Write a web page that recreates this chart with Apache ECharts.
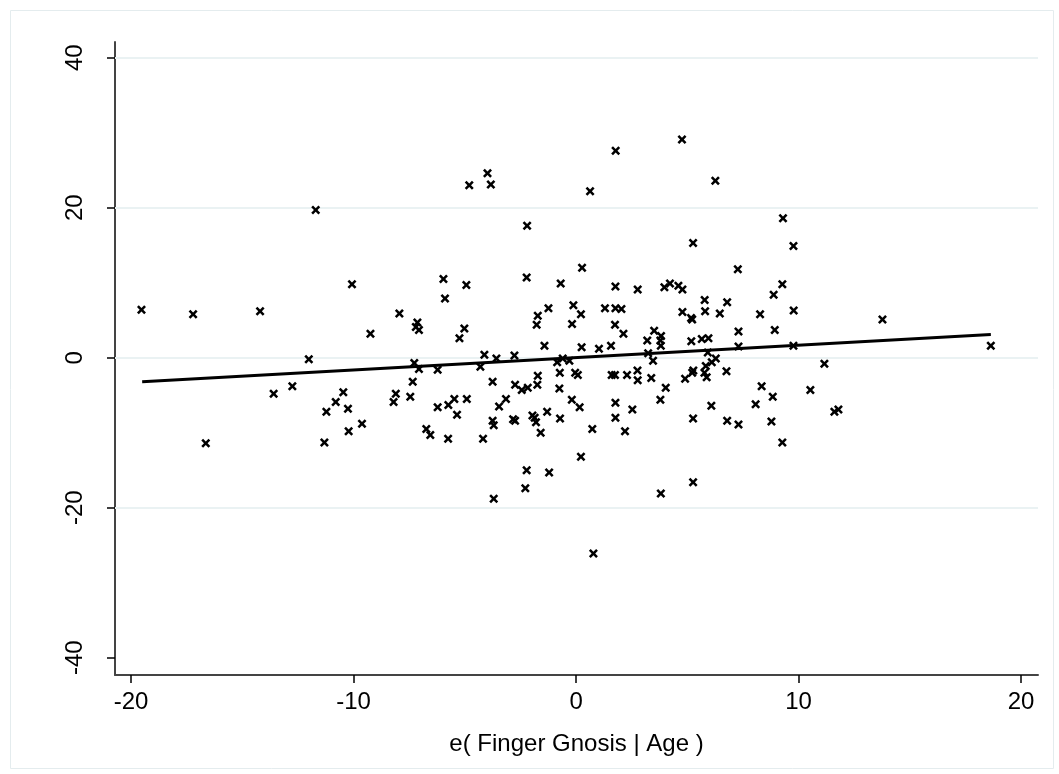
<!DOCTYPE html>
<html>
<head>
<meta charset="utf-8">
<script src="https://cdn.jsdelivr.net/npm/echarts@6/dist/echarts.min.js"></script>
<style>html,body{margin:0;padding:0;background:#fff;}#c{width:1059px;height:774px;}</style>
</head>
<body>
<div id="c"></div>
<script>
var xVals = [-19.53,-17.21,-14.2,-10.07,-12.01,-13.59,-12.75,-10.46,-10.8,-11.22,-10.25,-10.22,-11.31,-16.64,-11.7,-3.98,-4.8,-3.83,-2.2,0.63,1.78,4.76,6.26,9.3,5.26,9.77,-5.96,-4.93,-5.89,-7.94,-9.24,-7.13,-7.2,-7.06,-5.02,-5.24,-2.22,-0.69,0.27,-1.24,-1.72,-1.77,-0.12,0.22,-0.18,-1.42,0.25,-4.12,-3.58,-2.77,-7.27,-7.06,-6.22,-4.3,-0.85,-0.6,-0.3,-0.73,-0.04,0.08,-7.34,-3.75,-1.72,-1.74,-2.74,-2.44,-2.17,-0.75,-8.1,-8.2,-7.45,-9.62,-5.47,-5.74,-6.22,-4.91,-5.35,-3.15,-3.46,-0.19,0.16,-1.3,-1.96,-1.86,-1.8,-0.72,-2.83,-2.74,-3.75,-3.7,-6.73,-6.55,-5.75,-4.18,-1.59,0.22,-2.22,-1.21,-2.28,-3.7,7.27,1.77,2.77,3.97,4.22,4.6,4.78,9.27,8.88,6.79,5.78,5.8,4.78,5.17,5.22,6.46,8.27,9.78,8.93,1.3,1.77,2.04,1.75,2.13,3.51,3.82,3.79,3.81,3.2,5.18,5.65,5.95,7.3,7.3,9.77,1.03,1.57,3.24,3.46,5.92,6.28,6.1,5.83,5.77,5.87,5.27,5.22,6.76,4.9,1.6,1.75,2.29,2.76,2.77,3.38,4.03,3.79,1.77,2.53,1.77,0.73,2.2,5.26,6.08,6.79,7.3,8.34,8.84,8.07,8.78,10.53,9.27,13.77,18.64,11.16,11.61,11.79,5.26,3.81,0.78];
var yVals = [6.4,5.8,6.2,9.8,-0.2,-4.8,-3.8,-4.6,-5.9,-7.2,-6.8,-9.8,-11.3,-11.4,19.7,24.6,23.0,23.1,17.6,22.2,27.6,29.1,23.6,18.6,15.3,14.9,10.5,9.7,7.9,5.9,3.2,4.7,4.1,3.7,3.9,2.6,10.7,9.9,12.0,6.6,5.6,4.4,7.0,5.8,4.5,1.6,1.4,0.4,-0.1,0.3,-0.7,-1.5,-1.6,-1.2,-0.6,-0.1,-0.4,-2.0,-2.0,-2.3,-3.2,-3.2,-2.4,-3.6,-3.6,-4.3,-4.0,-4.1,-4.8,-5.9,-5.2,-8.8,-5.5,-6.3,-6.6,-5.5,-7.6,-5.5,-6.5,-5.6,-6.6,-7.2,-7.7,-8.0,-8.6,-8.1,-8.2,-8.4,-8.4,-9.0,-9.5,-10.3,-10.8,-10.8,-10.0,-13.2,-15.0,-15.3,-17.4,-18.8,11.8,9.5,9.1,9.4,9.9,9.6,9.1,9.8,8.4,7.4,7.7,6.2,6.1,5.3,5.1,5.9,5.8,6.3,3.7,6.6,6.6,6.5,4.4,3.2,3.6,2.9,2.3,1.6,2.3,2.2,2.5,2.6,3.5,1.5,1.6,1.2,1.6,0.6,-0.4,0.7,-0.1,-0.6,-1.1,-2.0,-2.6,-1.7,-2.0,-1.8,-2.8,-2.3,-2.3,-2.3,-1.7,-3.0,-2.7,-4.0,-5.6,-6.0,-6.9,-8.0,-9.5,-9.8,-8.1,-6.4,-8.4,-8.9,-3.8,-5.2,-6.2,-8.5,-4.3,-11.3,5.1,1.6,-0.8,-7.2,-6.9,-16.6,-18.1,-26.1];
var fitX = [-19.5, 18.64];
var fitY = [-3.2, 3.1];
var xTicks = [-20, -10, 0, 10, 20];
var yTicks = [-40, -20, 0, 20, 40];
var yGrid = [40, 20, 0, -20];
var xTitle = 'e( Finger Gnosis | Age )';

var pts = xVals.map(function (x, i) { return [x, yVals[i]]; });
var fit = fitX.map(function (x, i) { return [x, fitY[i]]; });
var xMark = 'path://M2,0L5,3L8,0L10,2L7,5L10,8L8,10L5,7L2,10L0,8L3,5L0,2Z';
var font = 'Liberation Sans, Arial, sans-serif';

var chart = echarts.init(document.getElementById('c'));
chart.setOption({
  animation: false,
  backgroundColor: '#ffffff',
  graphic: [{
    type: 'rect', left: 8, top: 8, shape: { width: 1043, height: 758 },
    style: { fill: 'none', stroke: '#e4ecee', lineWidth: 1 }, silent: true, z: -10
  }],
  grid: { left: 115, right: 21, top: 42, bottom: 99, containLabel: false },
  xAxis: {
    type: 'value', min: -20.72, max: 20.76,
    name: xTitle, nameLocation: 'middle', nameGap: 57,
    nameTextStyle: { fontFamily: font, fontSize: 24, color: '#000' },
    axisLine: { show: true, onZero: false, lineStyle: { color: '#444', width: 2 } },
    axisTick: { show: true, length: 8, lineStyle: { color: '#000', width: 1.5 }, customValues: xTicks },
    axisLabel: { fontFamily: font, fontSize: 24, color: '#000', margin: 15, customValues: xTicks },
    splitLine: { show: false }
  },
  yAxis: {
    type: 'value', min: -42.3, max: 42.1,
    axisLine: { show: true, onZero: false, lineStyle: { color: '#444', width: 2 } },
    axisTick: { show: true, length: 8, lineStyle: { color: '#000', width: 1.5 }, customValues: yTicks },
    axisLabel: { fontFamily: font, fontSize: 24, color: '#000', margin: 28, rotate: 90, customValues: yTicks },
    splitLine: { show: false }
  },
  series: [
    {
      type: 'scatter', data: pts, symbol: xMark, symbolSize: 9,
      itemStyle: { color: '#000', opacity: 1 }, z: 3,
      markLine: {
        silent: true, symbol: ['none', 'none'], label: { show: false },
        lineStyle: { color: '#eaf2f3', width: 2, type: 'solid' },
        data: yGrid.map(function (v) { return { yAxis: v }; }),
        z: 1, animation: false
      }
    },
    {
      type: 'line', data: fit, showSymbol: false, symbol: 'none',
      lineStyle: { color: '#000', width: 2.8 }, z: 4
    }
  ]
});
</script>
</body>
</html>
